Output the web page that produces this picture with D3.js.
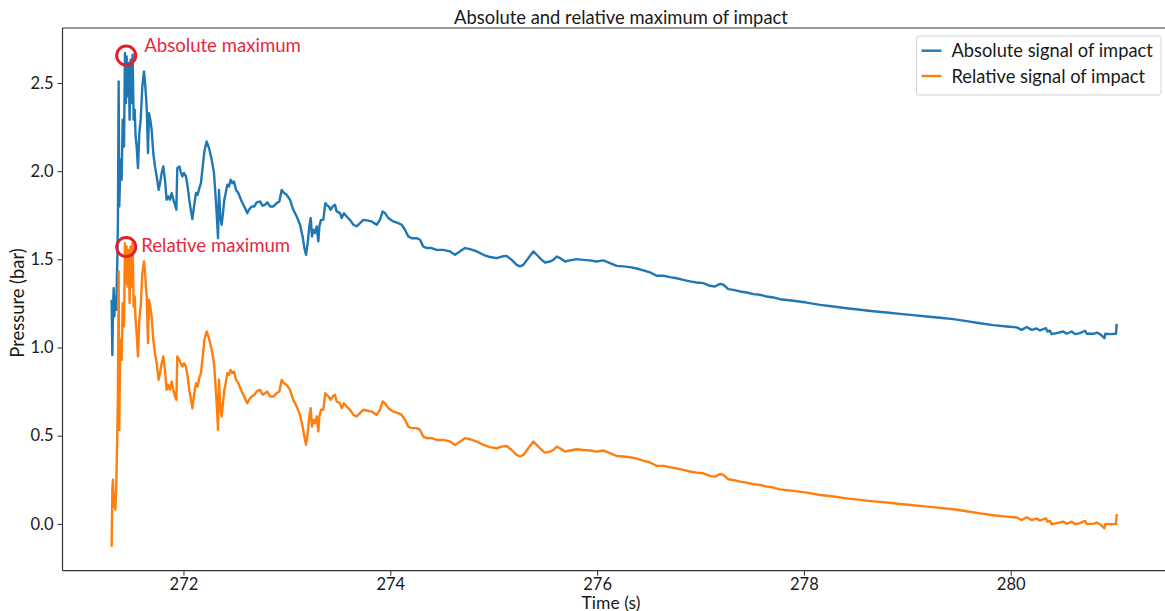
<!DOCTYPE html>
<html><head><meta charset="utf-8">
<script src="https://cdn.jsdelivr.net/npm/d3@7"></script>
<style>body{margin:0;background:#fff} svg text{font-family:Lato, "Open Sans", sans-serif; fill:#1a1a1a}</style>
</head><body><svg id="chart" width="1165" height="611"></svg>
<script>
const time = [271.305,271.312,271.318,271.325,271.331,271.341,271.350,271.360,271.366,271.373,271.379,271.386,271.392,271.402,271.412,271.425,271.434,271.444,271.450,271.460,271.470,271.479,271.489,271.499,271.508,271.518,271.528,271.537,271.547,271.560,271.573,271.586,271.602,271.618,271.631,271.644,271.657,271.666,271.679,271.692,271.708,271.724,271.741,271.760,271.773,271.789,271.805,271.821,271.837,271.853,271.869,271.886,271.902,271.918,271.931,271.940,271.960,271.973,271.989,272.005,272.024,272.040,272.056,272.073,272.086,272.102,272.121,272.137,272.153,272.169,272.186,272.202,272.224,272.247,272.273,272.295,272.308,272.321,272.334,272.343,272.356,272.369,272.382,272.395,272.408,272.424,272.440,272.456,272.472,272.488,272.508,272.530,272.563,272.595,272.617,272.633,272.659,272.685,272.708,272.740,272.766,272.788,272.811,272.837,272.869,272.901,272.927,272.950,272.972,272.998,273.030,273.062,273.095,273.127,273.152,273.169,273.185,273.201,273.217,273.230,273.243,273.256,273.272,273.288,273.304,273.314,273.330,273.352,273.372,273.385,273.404,273.423,273.443,273.465,273.481,273.514,273.530,273.552,273.578,273.610,273.643,273.675,273.707,273.739,273.771,273.820,273.868,273.900,273.926,273.949,273.981,274.029,274.078,274.110,274.142,274.174,274.207,274.255,274.287,274.303,274.319,274.352,274.400,274.448,274.513,274.577,274.626,274.722,274.771,274.835,274.900,274.964,275.029,275.077,275.125,275.174,275.222,275.254,275.287,275.335,275.383,275.416,275.464,275.496,275.545,275.577,275.609,275.641,275.690,275.738,275.802,275.867,275.931,275.996,276.060,276.125,276.189,276.254,276.318,276.383,276.447,276.512,276.576,276.641,276.705,276.769,276.834,276.898,276.963,277.027,277.092,277.140,277.189,277.221,277.269,277.318,277.382,277.447,277.511,277.576,277.640,277.704,277.769,277.898,278.027,278.156,278.285,278.414,278.543,278.671,278.800,278.929,279.058,279.187,279.316,279.445,279.574,279.703,279.832,279.961,280.058,280.106,280.154,280.203,280.251,280.283,280.341,280.354,280.380,280.396,280.444,280.509,280.541,280.590,280.622,280.670,280.719,280.735,280.799,280.831,280.864,280.906,280.915,280.960,281.018,281.025];

const absoluteSignal = [1.271,0.958,1.214,1.337,1.176,1.289,1.214,1.497,1.724,2.509,1.800,1.950,2.065,1.951,2.292,2.140,2.670,2.386,2.651,2.424,2.613,2.292,2.632,2.386,2.660,2.292,2.348,2.197,2.140,2.017,2.216,2.292,2.481,2.566,2.481,2.367,2.103,2.329,2.292,2.235,2.103,2.027,1.970,1.894,1.932,1.989,2.027,1.951,1.838,1.857,1.838,1.876,1.838,1.809,1.781,2.017,2.027,1.998,1.970,1.989,1.970,1.913,1.838,1.772,1.728,1.800,1.876,1.866,1.904,1.932,2.027,2.112,2.169,2.131,2.065,1.989,1.876,1.762,1.620,1.894,1.743,1.696,1.762,1.838,1.876,1.923,1.913,1.951,1.932,1.942,1.894,1.876,1.828,1.791,1.762,1.781,1.800,1.800,1.823,1.828,1.804,1.809,1.823,1.800,1.800,1.819,1.828,1.894,1.876,1.866,1.838,1.781,1.743,1.696,1.630,1.564,1.526,1.592,1.687,1.734,1.630,1.668,1.649,1.687,1.602,1.687,1.724,1.724,1.819,1.809,1.800,1.781,1.800,1.809,1.772,1.762,1.734,1.762,1.743,1.724,1.696,1.687,1.705,1.724,1.721,1.715,1.696,1.724,1.772,1.762,1.734,1.715,1.705,1.696,1.668,1.630,1.620,1.620,1.611,1.592,1.573,1.564,1.564,1.554,1.554,1.545,1.526,1.564,1.558,1.545,1.526,1.513,1.507,1.516,1.520,1.497,1.469,1.460,1.469,1.507,1.545,1.526,1.497,1.482,1.488,1.497,1.516,1.507,1.488,1.494,1.501,1.497,1.494,1.488,1.494,1.479,1.463,1.460,1.456,1.448,1.437,1.426,1.407,1.407,1.399,1.393,1.384,1.375,1.369,1.365,1.350,1.346,1.361,1.356,1.331,1.327,1.318,1.312,1.303,1.299,1.289,1.284,1.274,1.265,1.255,1.242,1.233,1.223,1.214,1.206,1.199,1.191,1.184,1.176,1.169,1.161,1.150,1.138,1.127,1.119,1.114,1.100,1.116,1.100,1.108,1.097,1.110,1.091,1.095,1.076,1.082,1.091,1.078,1.091,1.076,1.082,1.095,1.078,1.078,1.085,1.076,1.053,1.078,1.076,1.078,1.134];

const relativeSignal = [-0.129,0.193,0.250,0.098,0.174,0.080,0.212,0.514,0.741,1.431,0.533,0.892,1.044,0.930,1.252,1.119,1.592,1.365,1.573,1.346,1.554,1.252,1.573,1.346,1.592,1.233,1.289,1.157,1.081,0.949,1.157,1.233,1.422,1.488,1.403,1.289,1.025,1.271,1.233,1.176,1.044,0.968,0.911,0.817,0.855,0.911,0.949,0.873,0.760,0.788,0.760,0.807,0.760,0.722,0.703,0.949,0.930,0.911,0.892,0.911,0.892,0.836,0.760,0.703,0.656,0.732,0.798,0.779,0.826,0.855,0.949,1.044,1.091,1.053,0.987,0.911,0.798,0.684,0.533,0.817,0.665,0.609,0.684,0.760,0.798,0.855,0.845,0.873,0.855,0.864,0.817,0.798,0.751,0.713,0.684,0.703,0.722,0.732,0.751,0.760,0.732,0.741,0.751,0.722,0.722,0.741,0.751,0.817,0.798,0.788,0.760,0.703,0.665,0.618,0.552,0.495,0.448,0.514,0.609,0.656,0.552,0.590,0.571,0.609,0.524,0.609,0.647,0.647,0.741,0.732,0.722,0.703,0.722,0.732,0.694,0.684,0.656,0.684,0.665,0.647,0.618,0.609,0.628,0.647,0.643,0.637,0.618,0.647,0.694,0.684,0.656,0.637,0.628,0.618,0.590,0.552,0.543,0.543,0.533,0.514,0.495,0.486,0.486,0.476,0.476,0.467,0.448,0.486,0.480,0.467,0.448,0.435,0.429,0.438,0.442,0.419,0.391,0.382,0.391,0.429,0.467,0.448,0.419,0.404,0.410,0.419,0.438,0.429,0.410,0.416,0.423,0.419,0.416,0.410,0.416,0.401,0.385,0.382,0.378,0.370,0.359,0.348,0.329,0.329,0.321,0.315,0.306,0.297,0.291,0.287,0.272,0.268,0.283,0.278,0.253,0.249,0.240,0.234,0.225,0.221,0.211,0.206,0.196,0.187,0.177,0.164,0.155,0.145,0.136,0.128,0.121,0.113,0.106,0.098,0.091,0.083,0.072,0.060,0.049,0.041,0.036,0.022,0.038,0.022,0.030,0.019,0.032,0.013,0.017,-0.002,0.004,0.013,0.000,0.013,-0.002,0.004,0.017,0.000,0.000,0.007,-0.002,-0.025,0.000,-0.002,0.000,0.056];

const seriesNames = ["Absolute signal of impact", "Relative signal of impact"];
const seriesColors = ["#1f77b4", "#ff7f0e"];
const xTicks = [272, 274, 276, 278, 280];
const yTicks = [0.0, 0.5, 1.0, 1.5, 2.0, 2.5];
const markerLabels = ["Absolute maximum", "Relative maximum"];
const markerTimes = [271.446, 271.446];
const markerValues = [2.656, 1.570];

const svg = d3.select("#chart");
const padL = 62.5, padR = 1168, padT = 28, padB = 570.7;
const x = d3.scaleLinear().domain([270.830, 281.521]).range([padL, padR]);
const y = d3.scaleLinear().domain([-0.2654, 2.8118]).range([padB, padT]);

const n = Math.min(time.length, absoluteSignal.length, relativeSignal.length);
const series = [absoluteSignal, relativeSignal].map(vals => d3.range(n).map(i => [time[i], vals[i]]));

const line = d3.line().x(d => x(d[0])).y(d => y(d[1]));
svg.append("g").selectAll("path").data(series).join("path")
  .attr("d", line).attr("fill", "none")
  .attr("stroke", (d, i) => seriesColors[i])
  .attr("stroke-width", 2.4).attr("stroke-linejoin", "round");

// axes
const xAxis = svg.append("g").attr("transform", `translate(0,${padB})`)
  .call(d3.axisBottom(x).tickValues(xTicks).tickFormat(d3.format("d")).tickSize(5).tickSizeOuter(0).tickPadding(3));
const yAxis = svg.append("g").attr("transform", `translate(${padL},0)`)
  .call(d3.axisLeft(y).tickValues(yTicks).tickFormat(d3.format(".1f")).tickSize(5).tickSizeOuter(0).tickPadding(4));
[xAxis, yAxis].forEach(g => {
  g.selectAll(".domain").remove();
  g.selectAll("line").attr("stroke", "#333").attr("stroke-width", 1);
  g.selectAll("text").attr("font-size", 16.5).attr("fill", "#1a1a1a");
});
// spines
svg.append("line").attr("x1", padL).attr("x2", padL).attr("y1", padT).attr("y2", padB).attr("stroke", "#333").attr("stroke-width", 1.2);
svg.append("line").attr("x1", padL).attr("x2", 1165).attr("y1", padB).attr("y2", padB).attr("stroke", "#333").attr("stroke-width", 1.2);
svg.append("line").attr("x1", padL).attr("x2", 1165).attr("y1", padT).attr("y2", padT).attr("stroke", "#333").attr("stroke-width", 1.2);

// title and labels
svg.append("text").attr("x", 621).attr("y", 24).attr("text-anchor", "middle").attr("font-size", 18.4).text("Absolute and relative maximum of impact");
svg.append("text").attr("x", 611).attr("y", 608.5).attr("text-anchor", "middle").attr("font-size", 17.5).text("Time (s)");
svg.append("text").attr("transform", "translate(24,303) rotate(-90)").attr("text-anchor", "middle").attr("font-size", 18.4).text("Pressure (bar)");

// markers
const mk = svg.append("g");
markerLabels.forEach((lab, i) => {
  const cx = x(markerTimes[i]), cy = y(markerValues[i]);
  mk.append("circle").attr("cx", cx).attr("cy", cy).attr("r", 9.5).attr("fill", "none").attr("stroke", "#e31e2d").attr("stroke-width", 3);
  mk.append("text").attr("x", cx + (i === 0 ? 18 : 15)).attr("y", cy - 3 + (i === 0 ? 0 : 8)).attr("font-size", 18.6)
    .style("fill", "#e8283c").text(lab);
});

// legend
const lg = svg.append("g");
lg.append("rect").attr("x", 916.5).attr("y", 36).attr("width", 244.5).attr("height", 59).attr("rx", 3)
  .attr("fill", "#fff").attr("fill-opacity", 0.8).attr("stroke", "#d0d0d0");
seriesNames.forEach((nm, i) => {
  const ly = 50.7 + i * 25.3;
  lg.append("line").attr("x1", 921.5).attr("x2", 941.5).attr("y1", ly).attr("y2", ly).attr("stroke", seriesColors[i]).attr("stroke-width", 2.4);
  lg.append("text").attr("x", 951.5).attr("y", ly + 6.5).attr("font-size", 18.3).text(nm);
});
</script></body></html>
